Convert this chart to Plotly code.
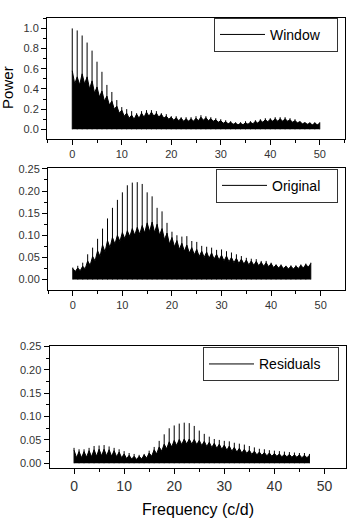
import plotly.graph_objects as go

# ---- data ----
# Window spectrum: alias spike heights at each c/d, shoulder (top of dense body) and valleys between aliases
win_freq = list(range(0, 51))
win_spike = [1.00,0.98,0.93,0.86,0.78,0.67,0.57,0.44,0.37,0.29,0.22,
             0.20,0.18,0.16,0.18,0.19,0.19,0.18,0.16,0.15,0.13,
             0.13,0.12,0.12,0.12,0.13,0.14,0.13,0.12,0.11,0.10,
             0.09,0.08,0.07,0.07,0.08,0.08,0.09,0.10,0.11,0.11,
             0.12,0.12,0.12,0.11,0.10,0.08,0.07,0.07,0.07,0.07]
win_shoulder = [0.58,0.52,0.55,0.52,0.48,0.42,0.38,0.33,0.28,0.23,0.19,
                0.16,0.14,0.15,0.16,0.17,0.17,0.16,0.15,0.13,0.12,
                0.115,0.11,0.105,0.105,0.11,0.12,0.115,0.105,0.095,0.085,
                0.075,0.07,0.06,0.06,0.065,0.07,0.08,0.09,0.095,0.10,
                0.105,0.105,0.105,0.095,0.085,0.075,0.065,0.06,0.06,0.06]
win_valley = [0.45,0.44,0.45,0.40,0.36,0.32,0.28,0.24,0.20,0.16,
              0.13,0.11,0.10,0.11,0.12,0.13,0.13,0.12,0.11,0.10,
              0.09,0.085,0.08,0.08,0.08,0.085,0.09,0.085,0.08,0.07,
              0.06,0.055,0.05,0.045,0.045,0.05,0.055,0.06,0.07,0.075,
              0.08,0.08,0.08,0.08,0.07,0.065,0.055,0.05,0.045,0.045]

orig_freq = list(range(0, 49))
orig_spike = [0.027,0.031,0.038,0.057,0.072,0.092,0.115,0.138,0.162,0.180,
              0.197,0.213,0.219,0.220,0.216,0.197,0.188,0.162,0.154,0.128,
              0.108,0.100,0.097,0.098,0.087,0.085,0.076,0.074,0.072,0.067,
              0.068,0.064,0.061,0.057,0.053,0.049,0.047,0.046,0.042,0.042,
              0.038,0.034,0.034,0.031,0.032,0.032,0.034,0.036,0.038]
orig_shoulder = [0.025,0.026,0.030,0.042,0.052,0.065,0.078,0.088,0.095,0.100,
                 0.106,0.110,0.115,0.118,0.122,0.128,0.130,0.125,0.115,0.105,
                 0.095,0.088,0.082,0.078,0.072,0.068,0.064,0.062,0.060,0.057,
                 0.055,0.053,0.050,0.048,0.046,0.044,0.042,0.041,0.039,0.038,
                 0.036,0.033,0.032,0.030,0.030,0.030,0.032,0.034,0.036]
orig_valley = [0.018,0.020,0.024,0.032,0.042,0.052,0.062,0.072,0.080,0.086,
               0.092,0.097,0.100,0.102,0.105,0.108,0.106,0.100,0.090,0.080,
               0.074,0.068,0.064,0.060,0.056,0.052,0.050,0.048,0.046,0.044,
               0.042,0.040,0.038,0.036,0.035,0.033,0.032,0.031,0.030,0.029,
               0.027,0.026,0.025,0.024,0.024,0.025,0.026,0.028]

res_freq = list(range(0, 48))
res_spike = [0.033,0.030,0.030,0.033,0.037,0.038,0.039,0.036,0.033,0.030,
             0.026,0.022,0.020,0.018,0.020,0.027,0.035,0.048,0.062,0.075,
             0.081,0.085,0.087,0.086,0.080,0.070,0.063,0.057,0.052,0.050,
             0.048,0.047,0.044,0.042,0.040,0.037,0.034,0.031,0.030,0.028,
             0.027,0.026,0.025,0.024,0.023,0.022,0.022,0.020]
res_shoulder = [0.028,0.025,0.025,0.027,0.029,0.030,0.030,0.029,0.027,0.024,
                0.020,0.017,0.015,0.015,0.018,0.022,0.029,0.035,0.041,0.046,
                0.049,0.051,0.052,0.052,0.051,0.049,0.047,0.045,0.043,0.041,
                0.039,0.037,0.034,0.032,0.030,0.028,0.026,0.024,0.023,0.022,
                0.021,0.020,0.019,0.019,0.018,0.018,0.017,0.017]
res_valley = [0.012,0.012,0.013,0.014,0.015,0.016,0.016,0.015,0.014,0.012,
              0.010,0.009,0.008,0.009,0.011,0.015,0.020,0.026,0.031,0.035,
              0.038,0.040,0.041,0.041,0.040,0.038,0.036,0.034,0.032,0.030,
              0.028,0.026,0.024,0.022,0.021,0.019,0.018,0.017,0.016,0.015,
              0.015,0.014,0.014,0.013,0.013,0.012,0.012]

panel_names = ["Window", "Original", "Residuals"]
x_ticks = [0, 10, 20, 30, 40, 50]

FONT = "Liberation Sans, Arial, sans-serif"
NB = "\u00a0"

fig = go.Figure()

panels = [
    (win_freq, win_spike, win_shoulder, win_valley, "x", "y", "legend"),
    (orig_freq, orig_spike, orig_shoulder, orig_valley, "x2", "y2", "legend2"),
    (res_freq, res_spike, res_shoulder, res_valley, "x3", "y3", "legend3"),
]

for (freq, spike, shoulder, valley, xa, ya, lg), name in zip(panels, panel_names):
    # dense filled body of the periodogram: shoulders at the aliases, valleys half-way between
    bx, by = [], []
    for i, f in enumerate(freq):
        bx.append(f)
        by.append(shoulder[i])
        if i < len(valley):
            bx.append(f + 0.5)
            by.append(valley[i])
    fig.add_trace(go.Scatter(x=bx, y=by, mode="lines", fill="tozeroy",
                             fillcolor="black", line=dict(color="black", width=1),
                             xaxis=xa, yaxis=ya, showlegend=False, hoverinfo="skip"))
    # alias spikes
    sx, sy = [], []
    for f, h in zip(freq, spike):
        sx += [f, f, None]
        sy += [0, h, None]
    fig.add_trace(go.Scatter(x=sx, y=sy, mode="lines",
                             line=dict(color="black", width=1),
                             xaxis=xa, yaxis=ya, showlegend=False, hoverinfo="skip"))
    # legend entry
    fig.add_trace(go.Scatter(x=[None], y=[None], mode="lines", name=name + NB * 3,
                             line=dict(color="black", width=1),
                             xaxis=xa, yaxis=ya, legend=lg, showlegend=True))

axis_common = dict(showline=True, linecolor="black", linewidth=1, mirror=True,
                   ticks="outside", ticklen=5, tickwidth=1, tickcolor="black",
                   showgrid=False, zeroline=False)

def xaxis(domain, rng, anchor, size):
    return dict(domain=domain, range=rng, anchor=anchor, tickvals=x_ticks,
                tickfont=dict(size=size, color="#333", family=FONT),
                minor=dict(dtick=5, tick0=-5, ticks="outside", ticklen=3,
                           tickcolor="black", showgrid=False),
                **axis_common)

def yaxis(domain, rng, anchor, dtick, mdtick, fmt):
    return dict(domain=domain, range=rng, anchor=anchor, dtick=dtick, tick0=0,
                tickformat=fmt, tickfont=dict(size=11, color="#333", family=FONT),
                minor=dict(dtick=mdtick, tick0=0, ticks="outside", ticklen=3,
                           tickcolor="black", showgrid=False),
                **axis_common)

def legend(ytop, xright):
    return dict(x=xright / W, y=1 - ytop / H, xanchor="right", yanchor="top",
                bordercolor="#333", borderwidth=1, bgcolor="white", itemwidth=45,
                tracegroupgap=0,
                font=dict(size=14, family=FONT, color="black"))

W, H = 354, 520
fig.update_layout(
    width=W, height=H, margin=dict(l=0, r=0, t=0, b=0),
    paper_bgcolor="white", plot_bgcolor="white",
    font=dict(family=FONT, color="black"),
    xaxis=xaxis([47 / W, 345 / W], [-5.1, 55.1], "y", 11),
    yaxis=yaxis([1 - 135 / H, 1 - 12 / H], [-0.098, 1.105], "x", 0.2, 0.1, ".1f"),
    xaxis2=xaxis([48 / W, 345 / W], [-5.0, 54.9], "y2", 11),
    yaxis2=yaxis([1 - 288 / H, 1 - 164 / H], [-0.024, 0.2525], "x2", 0.05, 0.025, ".2f"),
    xaxis3=xaxis([49.5 / W, 346 / W], [-4.9, 54.3], "y3", 14),
    yaxis3=yaxis([1 - 468 / H, 1 - 345 / H], [-0.0095, 0.2505], "x3", 0.05, 0.025, ".2f"),
    legend=legend(12, 338),
    legend2=legend(165, 338),
    legend3=legend(346, 339),
    annotations=[
        dict(text="Power", x=8 / W, y=1 - 83 / H, xref="paper", yref="paper",
             showarrow=False, textangle=-90, font=dict(size=15, family=FONT, color="black"),
             xanchor="center", yanchor="middle"),
        dict(text="Frequency (c/d)", x=198 / W, y=1 - 510 / H, xref="paper", yref="paper",
             showarrow=False, font=dict(size=16, family=FONT, color="black"),
             xanchor="center", yanchor="middle"),
    ],
)

fig.write_html("out.html")
